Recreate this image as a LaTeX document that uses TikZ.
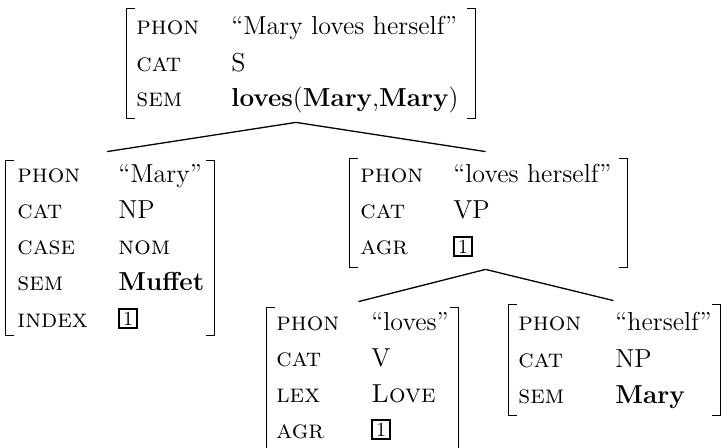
\documentclass[tikz,border=0pt]{standalone}
\usepackage{fontspec}
\usetikzlibrary{fit}
\newcommand\valfont{\fontsize{13}{15}\selectfont}
\newcommand\labfont{\fontsize{13}{15}\selectfont\scshape}
\tikzset{
  lab/.style={anchor=base west, inner sep=0pt, font=\labfont},
  val/.style={anchor=base west, inner sep=0pt, font=\valfont},
  avm/.style={inner sep=0pt, draw=none},
  brk/.style={line width=0.8pt},
  branch/.style={line width=0.65pt},
  tagbox/.style={draw, line width=1pt, inner sep=0pt, minimum width=9pt,
    minimum height=9.5pt, font=\fontsize{10}{10}\selectfont, anchor=south west}
}
% square brackets round an attribute-value matrix
\newcommand\avmbrackets[1]{%
  \draw[brk] ([xshift=4pt]#1.north west) -- (#1.north west) -- (#1.south west) -- ([xshift=4pt]#1.south west);
  \draw[brk] ([xshift=-4pt]#1.north east) -- (#1.north east) -- (#1.south east) -- ([xshift=-4pt]#1.south east);}
\begin{document}
\begin{tikzpicture}[x=0.5pt,y=-0.5pt]
\useasboundingbox (0,0) rectangle (721,448);
\clip (0,0) rectangle (721,448);

% S
\node[avm, fit={(127,9) (475,118)}] (T) {};
\avmbrackets{T}
\node[lab] (T-phon) at (136,35) {phon};
\node[lab] (T-cat)  at (136,72) {cat};
\node[lab] (T-sem)  at (136,107) {sem};
\node[val] (T-phon-v) at (231,35) {``Mary loves herself''};
\node[val] (T-cat-v)  at (231,72) {S};
\node[val] (T-sem-v)  at (231,107) {\textbf{loves}(\textbf{Mary},\textbf{Mary})};

% subject NP
\node[avm, fit={(6,161) (214,335)}] (L) {};
\avmbrackets{L}
\node[lab] (L-phon)  at (17,183) {phon};
\node[lab] (L-cat)   at (17,219) {cat};
\node[lab] (L-case)  at (17,255) {case};
\node[lab] (L-sem)   at (17,291) {sem};
\node[lab] (L-index) at (17,327) {index};
\node[val] (L-phon-v) at (118,183) {``Mary''};
\node[val] (L-cat-v)  at (118,219) {NP};
\node[val] (L-case-v) at (118,255) {\textsc{nom}};
\node[val] (L-sem-v)  at (118,291) {\textbf{Muffet}};
\node[tagbox] (L-index-v) at (118,329) {1};

% VP
\node[avm, fit={(350,159) (627,267)}] (V) {};
\avmbrackets{V}
\node[lab] (V-phon) at (360,183) {phon};
\node[lab] (V-cat)  at (360,219) {cat};
\node[lab] (V-agr)  at (360,255) {agr};
\node[val] (V-phon-v) at (453,183) {``loves herself''};
\node[val] (V-cat-v)  at (453,219) {VP};
\node[tagbox] (V-agr-v) at (453,257) {1};

% verb
\node[avm, fit={(267,308) (458,480)}] (B1) {};
\avmbrackets{B1}
\node[lab] (B1-phon) at (276,330) {phon};
\node[lab] (B1-cat)  at (276,366) {cat};
\node[lab] (B1-lex)  at (276,402) {lex};
\node[lab] (B1-agr)  at (276,438) {agr};
\node[val] (B1-phon-v) at (371,330) {``loves''};
\node[val] (B1-cat-v)  at (371,366) {V};
\node[val] (B1-lex-v)  at (371,402) {\textsc{Love}};
\node[tagbox] (B1-agr-v) at (371,440) {1};

% reflexive NP
\node[avm, fit={(509,305) (720,415)}] (B2) {};
\avmbrackets{B2}
\node[lab] (B2-phon) at (518,330) {phon};
\node[lab] (B2-cat)  at (518,367) {cat};
\node[lab] (B2-sem)  at (518,403) {sem};
\node[val] (B2-phon-v) at (615,330) {``herself''};
\node[val] (B2-cat-v)  at (615,367) {NP};
\node[val] (B2-sem-v)  at (615,403) {\textbf{Mary}};

% tree branches
\draw[branch] ([shift={(-5,4)}]T.south) -- ([shift={(-3,-9)}]L.north);
\draw[branch] ([shift={(-5,4)}]T.south) -- ([shift={(-3,-7)}]V.north);
\draw[branch] ([shift={(-3,2)}]V.south) -- ([shift={(-4,-6)}]B1.north west -| B1.north);
\draw[branch] ([shift={(-3,2)}]V.south) -- ([shift={(-1,-4)}]B2.north);
\end{tikzpicture}
\end{document}
